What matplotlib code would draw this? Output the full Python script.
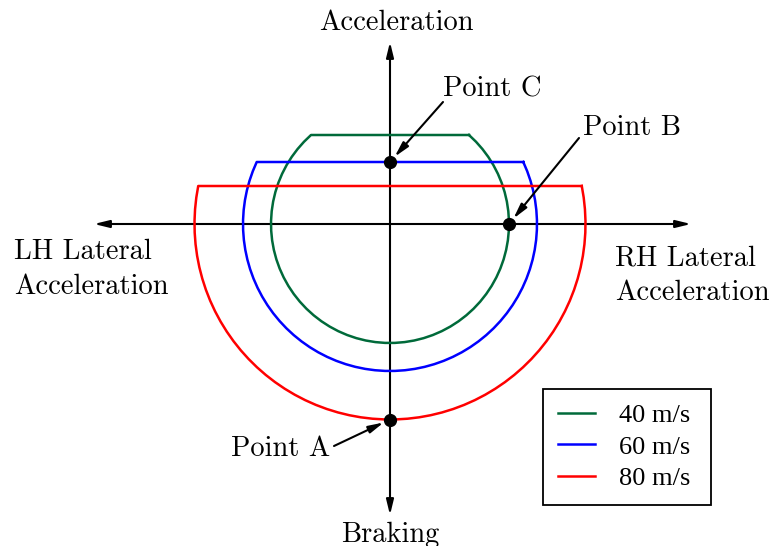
import matplotlib.pyplot as plt
import numpy as n

# friction circle for each speed: grip radius and traction-limited acceleration cap (g)
speeds = ['40 m/s', '60 m/s', '80 m/s']
radius = [1.19, 1.47, 1.955]
accel_cap = [0.89, 0.62, 0.38]
colours = ['#006a3a', '#0000ff', '#ff0000']

# labelled operating points
point_names = ['Point A', 'Point B', 'Point C']
point_x = [0.0, 1.19, 0.0]
point_y = [-1.955, 0.0, 0.62]

cm = 'cmr10'
fs = 20.5

fig = plt.figure(figsize=(7.74, 5.46), dpi=100)
ax = fig.add_axes([0, 0, 1, 1])
ax.set_xlim(-3.90, 3.84)
ax.set_ylim(-3.22, 2.24)
ax.axis('off')

head = '<|-|>,head_length=0.9,head_width=0.22'
# axes drawn as arrows
ax.annotate('', xy=(-2.96, 0), xytext=(3.01, 0),
            arrowprops=dict(arrowstyle=head, color='black', lw=1.5, shrinkA=0, shrinkB=0))
ax.annotate('', xy=(0, 1.82), xytext=(0, -2.91),
            arrowprops=dict(arrowstyle=head, color='black', lw=1.5, shrinkA=0, shrinkB=0))

for name, r, cap, c in zip(speeds, radius, accel_cap, colours):
    t0 = n.arcsin(cap / r)
    th = n.linspace(t0, n.pi - t0 - 2 * n.pi, 60)
    xs = r * n.cos(th)
    ys = r * n.sin(th)
    xs = n.append(xs, xs[0])
    ys = n.append(ys, ys[0])
    ax.plot(xs, ys, color=c, lw=1.8, label=name, zorder=3)

ax.plot(point_x, point_y, 'o', color='black', ms=8.5, zorder=5)

arr = dict(arrowstyle='-|>,head_length=0.9,head_width=0.22', color='black', lw=1.5,
           shrinkA=0, shrinkB=5)
ax.annotate('', xy=(point_x[0], point_y[0]), xytext=(-0.56, -2.22), arrowprops=arr)
ax.annotate('', xy=(point_x[1], point_y[1]), xytext=(1.89, 0.86), arrowprops=arr)
ax.annotate('', xy=(point_x[2], point_y[2]), xytext=(0.53, 1.22), arrowprops=arr)
ax.text(-0.60, -2.25, point_names[0], fontsize=fs, family=cm, ha='right', va='center')
ax.text(1.93, 0.96, point_names[1], fontsize=fs, family=cm, ha='left', va='center')
ax.text(0.53, 1.35, point_names[2], fontsize=fs, family=cm, ha='left', va='center')

ax.text(0.06, 2.01, 'Acceleration', fontsize=fs, family=cm, ha='center', va='center')
ax.text(0.0, -3.11, 'Braking', fontsize=fs, family=cm, ha='center', va='center')
ax.text(-3.76, -0.455, 'LH Lateral\nAcceleration', fontsize=fs, family=cm,
        ha='left', va='center', linespacing=1.4)
ax.text(2.25, -0.515, 'RH Lateral\nAcceleration', fontsize=fs, family=cm,
        ha='left', va='center', linespacing=1.4)

leg = ax.legend(loc='lower left', bbox_to_anchor=(543 / 774, 41 / 546, 168 / 774, 116 / 546),
                mode='expand', fancybox=False, framealpha=1, edgecolor='black',
                prop={'family': 'Liberation Serif', 'size': 19}, handlelength=1.4,
                handletextpad=0.9, borderpad=0.57, labelspacing=0.3, borderaxespad=0)
leg.get_frame().set_linewidth(1.3)

fig.savefig('out.png', dpi=100)
